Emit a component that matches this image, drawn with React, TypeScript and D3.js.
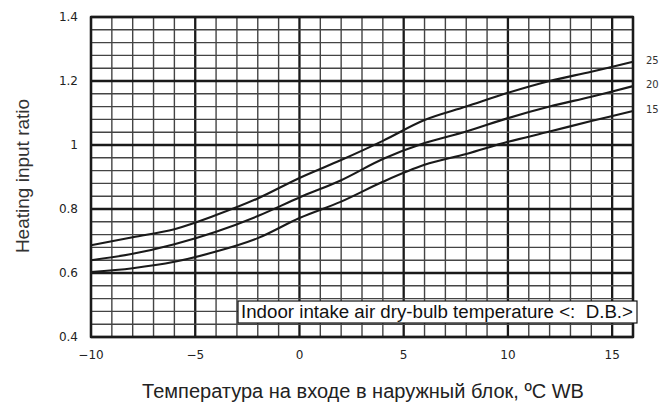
import React from "react";
import * as d3 from "d3";

const temps = [-10, -8, -6, -4, -2, 0, 2, 4, 6, 8, 10, 12, 14, 16];
const ratio25 = [0.687, 0.712, 0.737, 0.781, 0.833, 0.897, 0.953, 1.013, 1.078, 1.12, 1.163, 1.2, 1.229, 1.26];
const ratio20 = [0.64, 0.66, 0.69, 0.729, 0.778, 0.836, 0.89, 0.956, 1.006, 1.042, 1.084, 1.12, 1.151, 1.184];
const ratio15 = [0.603, 0.615, 0.635, 0.667, 0.709, 0.772, 0.823, 0.885, 0.938, 0.972, 1.01, 1.042, 1.075, 1.106];
const seriesLabels = ["25", "20", "15"];
const xTicks = [-10, -5, 0, 5, 10, 15];
const xTickLabels = ["\u221210", "\u22125", "0", "5", "10", "15"];
const yTicks = [0.4, 0.6, 0.8, 1, 1.2, 1.4];
const yTickLabels = ["0.4", "0.6", "0.8", "1", "1.2", "1.4"];
const legendText = "Indoor intake air dry-bulb temperature <:  D.B.>";
const yTitle = "Heating input ratio";
const xTitle = "Температура на входе в наружный блок, ºС WB";

const W = 661;
const H = 402;
const L = 91, R = 633, T = 17, B = 337;

export default function App() {
  const x = d3.scaleLinear().domain([-10, 16]).range([L, R]);
  const y = d3.scaleLinear().domain([0.4, 1.4]).range([B, T]);

  const vLines = d3.range(-10, 17, 1);
  const hLines = d3.range(0, 26).map((i) => 0.4 + i * 0.04);

  const series = [ratio25, ratio20, ratio15];
  const line = d3
    .line<[number, number]>()
    .x((d) => x(d[0]))
    .y((d) => y(d[1]))
    .curve(d3.curveCatmullRom.alpha(0.5));

  const thin = { stroke: "#444", strokeWidth: 1.4 };
  const thick = { stroke: "#1a1a1a", strokeWidth: 2.3 };

  return (
    <svg
      width={W}
      height={H}
      style={{ position: "absolute", left: 0, top: 0, background: "#fff" }}
    >
      <rect x={0} y={0} width={W} height={H} fill="#fff" />
      {vLines.map((v) => {
        const isThick = v % 5 === 0 || v === 16 || v === -10;
        const s = isThick ? thick : thin;
        return (
          <line key={"v" + v} x1={x(v)} x2={x(v)} y1={T} y2={B} stroke={s.stroke} strokeWidth={s.strokeWidth} />
        );
      })}
      {hLines.map((h, i) => {
        const isThick = i % 5 === 0;
        const s = isThick ? thick : thin;
        return (
          <line key={"h" + i} x1={L} x2={R} y1={y(h)} y2={y(h)} stroke={s.stroke} strokeWidth={s.strokeWidth} />
        );
      })}
      <rect x={L} y={T} width={R - L} height={B - T} fill="none" stroke="#1a1a1a" strokeWidth={2.3} />
      {series.map((vals, si) => (
        <path
          key={"s" + si}
          d={line(temps.map((t, i) => [t, vals[i]] as [number, number])) || ""}
          fill="none"
          stroke="#1a1a1a"
          strokeWidth={2.1}
        />
      ))}
      {series.map((vals, si) => (
        <text
          key={"sl" + si}
          x={646}
          y={y(vals[vals.length - 1]) - 1}
          dominantBaseline="middle"
          fontFamily="DejaVu Sans"
          fontSize={10}
          fill="#333"
        >
          {seriesLabels[si]}
        </text>
      ))}
      {xTicks.map((t, i) => (
        <text
          key={"xt" + i}
          x={x(t)}
          y={359}
          textAnchor="middle"
          fontFamily="DejaVu Sans"
          fontSize={12}
          fill="#222"
        >
          {xTickLabels[i]}
        </text>
      ))}
      {yTicks.map((t, i) => (
        <text
          key={"yt" + i}
          x={78}
          y={y(t)}
          textAnchor="end"
          dominantBaseline="middle"
          fontFamily="DejaVu Sans"
          fontSize={12}
          fill="#222"
        >
          {yTickLabels[i]}
        </text>
      ))}
      <rect x={238} y={301} width={399} height={22} fill="#fff" stroke="#111" strokeWidth={1.2} />
      <text
        x={241}
        y={318}
        fontFamily="Liberation Sans, Arial"
        fontSize={18}
        fill="#111"
        textLength={392}
        lengthAdjust="spacingAndGlyphs"
        style={{ whiteSpace: "pre" }}
        xmlSpace="preserve"
      >
        {legendText}
      </text>
      <text
        transform={`translate(29,176) rotate(-90)`}
        textAnchor="middle"
        fontFamily="Liberation Sans, Arial"
        fontSize={19}
        fill="#333"
      >
        {yTitle}
      </text>
      <text
        x={363}
        y={398}
        textAnchor="middle"
        fontFamily="Liberation Sans, Arial"
        fontSize={20}
        fill="#222"
      >
        {xTitle}
      </text>
    </svg>
  );
}
